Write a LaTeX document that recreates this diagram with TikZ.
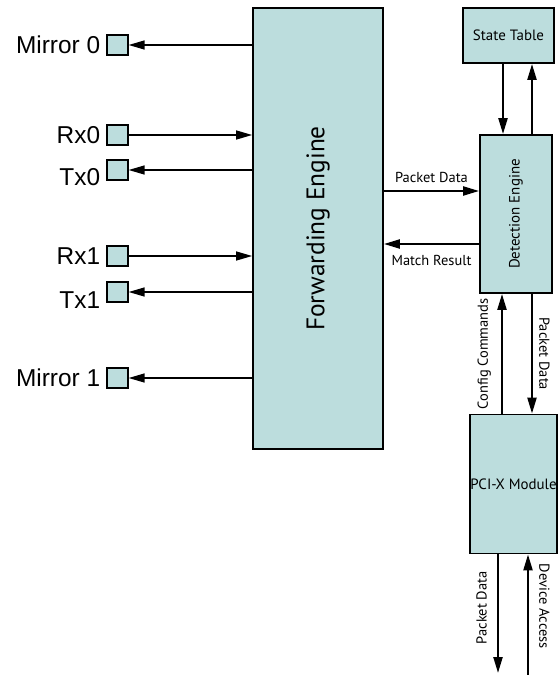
\documentclass[tikz,border=0pt]{standalone}
\usepackage{fontspec}
\setmainfont{Liberation Sans}
\newfontfamily\blockfont{PT Sans}
\usepackage{graphicx}
\usetikzlibrary{arrows.meta,calc}
\definecolor{blockfill}{RGB}{188,221,221}
\tikzset{
    >={Triangle[length=16bp,width=9bp]},
    block/.style={
        draw=black,
        fill=blockfill,
        line width=1.8bp,
        inner sep=0pt,
        font=\blockfont\fontsize{15}{17}\selectfont,
    },
    port/.style={
        draw=black,
        fill=blockfill,
        line width=1.3bp,
        minimum width=21bp,
        minimum height=20bp,
        inner sep=0pt,
    },
    portlabel/.style={
        anchor=east,
        inner sep=0pt,
        font=\fontsize{24.5}{27}\selectfont,
    },
    portlink/.style={line width=1.4bp},
    link/.style={line width=2.2bp},
    linklabel/.style={
        inner sep=0pt,
        font=\blockfont\fontsize{14.5}{16}\selectfont,
    },
}

\begin{document}
\begin{tikzpicture}[x=1bp,y=-1bp]
    \useasboundingbox (0,0) rectangle (559,675);

    % blocks
    \node[block, minimum width=130bp, minimum height=441bp,
          font=\blockfont\fontsize{25.5}{29}\selectfont]
          (fwd) at (318,228.5) {\rotatebox{90}{Forwarding Engine}};
    \node[block, minimum width=91bp, minimum height=55bp] (state) at (508.5,35.5) {State Table};
    \node[block, minimum width=72bp, minimum height=158bp] (detect) at (516,214) {\rotatebox{90}{Detection Engine}};
    \node[block, minimum width=87bp, minimum height=139bp] (pcix) at (513.5,484) {PCI-X Module};

    % ports
    \foreach \name/\ypos/\txt/\dy in {mirror0/45/Mirror 0/0, rx0/135/Rx0/0, tx0/170/Tx0/7,
                                      rx1/256/Rx1/0, tx1/292/Tx1/8, mirror1/378/Mirror 1/0}{
        \node[port] (\name) at (117.5,\ypos) {};
        \node[portlabel] (\name-label) at ([xshift=-6bp,yshift=-\dy bp]\name.west) {\txt};
    }

    % port links
    \draw[portlink,->] (mirror0 -| fwd.west) -- (mirror0);
    \draw[portlink,->] (rx0) -- (rx0 -| fwd.west);
    \draw[portlink,->] (tx0 -| fwd.west) -- (tx0);
    \draw[portlink,->] (rx1) -- (rx1 -| fwd.west);
    \draw[portlink,->] (tx1 -| fwd.west) -- (tx1);
    \draw[portlink,->] (mirror1 -| fwd.west) -- (mirror1);

    % engine links
    \draw[link,->] ([yshift=23bp]fwd.east |- detect.west) -- ([yshift=23bp]detect.west)
        node[linklabel, midway, above=7bp] {Packet Data};
    \draw[link,->] ([yshift=-30bp]detect.west) -- ([yshift=-30bp]fwd.east |- detect.west)
        node[linklabel, midway, below=10bp] {Match Result};

    % state table
    \draw[link,->] ([xshift=-13bp]detect.north |- state.south) -- ([xshift=-13bp]detect.north);
    \draw[link,->] ([xshift=16bp]detect.north) -- ([xshift=16bp]detect.north |- state.south);

    % detection <-> pci-x
    \draw[link,->] ([xshift=-14bp]detect.south |- pcix.north) -- ([xshift=-14bp]detect.south)
        node[linklabel, midway, xshift=-10bp, rotate=90, anchor=south] {Config Commands};
    \draw[link,->] ([xshift=16bp]detect.south) -- ([xshift=16bp]detect.south |- pcix.north)
        node[linklabel, midway, xshift=6bp, rotate=-90, anchor=south] {Packet Data};

    % host side
    \coordinate (hostout) at (498,673);
    \coordinate (hostin) at (528,675);
    \draw[link,->] (pcix.south -| hostout) -- (hostout)
        node[linklabel, pos=0.45, xshift=-10bp, rotate=90, anchor=south] {Packet Data};
    \draw[link,->] (hostin) -- (pcix.south -| hostin)
        node[linklabel, pos=0.57, xshift=10bp, rotate=-90, anchor=south] {Device Access};
\end{tikzpicture}
\end{document}
